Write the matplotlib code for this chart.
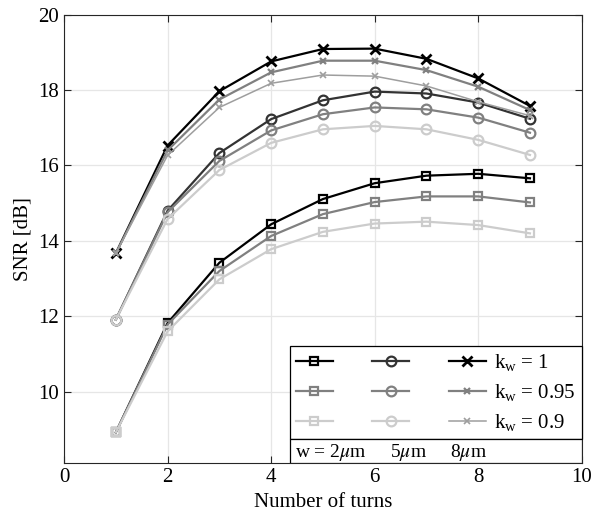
import numpy as np
import matplotlib
matplotlib.use('Agg')
import matplotlib.pyplot as plt
from matplotlib.legend_handler import HandlerTuple
from matplotlib.patches import Rectangle

plt.rcParams['font.family'] = 'Liberation Serif'
plt.rcParams['mathtext.fontset'] = 'stix'

turns = [1, 2, 3, 4, 5, 6, 7, 8, 9]

# w = 2 um (squares)
sq_k100 = [8.92, 11.82, 13.42, 14.44, 15.11, 15.53, 15.73, 15.78, 15.66]
sq_k095 = [8.92, 11.78, 13.20, 14.13, 14.71, 15.03, 15.18, 15.18, 15.02]
sq_k090 = [8.92, 11.60, 12.98, 13.78, 14.24, 14.46, 14.51, 14.42, 14.20]

# w = 5 um (circles)
ci_k100 = [11.91, 14.80, 16.33, 17.23, 17.73, 17.96, 17.91, 17.67, 17.24]
ci_k095 = [11.91, 14.76, 16.12, 16.93, 17.36, 17.54, 17.49, 17.27, 16.87]
ci_k090 = [11.91, 14.58, 15.88, 16.60, 16.96, 17.05, 16.96, 16.68, 16.28]

# w = 8 um (crosses)
cr_k100 = [13.67, 16.53, 17.97, 18.76, 19.09, 19.10, 18.83, 18.31, 17.58]
cr_k095 = [13.67, 16.40, 17.75, 18.47, 18.78, 18.78, 18.53, 18.09, 17.47]
cr_k090 = [13.67, 16.27, 17.54, 18.18, 18.40, 18.37, 18.11, 17.69, 17.32]

kw_labels = [r'$\mathregular{k_w}$ = 1', r'$\mathregular{k_w}$ = 0.95', r'$\mathregular{k_w}$ = 0.9']
w_labels = [r'w = 2$\mu$m', r'5$\mu$m', r'8$\mu$m']

fig = plt.figure(figsize=(5.93, 5.25), dpi=100)
ax = fig.add_axes([0.108, 0.1175, 0.873, 0.8545])

c1, c2, c3 = '0.0', '0.5', '0.8'
lw = 1.6

rows = []
h = []
h.append(ax.plot(turns, sq_k100, '-s', color=c1, lw=lw, ms=5.5, mfc='none', mew=1.6)[0])
h.append(ax.plot(turns, ci_k100, '-o', color='0.2', lw=lw, ms=7, mfc='none', mew=1.6)[0])
h.append(ax.plot(turns, cr_k100, '-x', color=c1, lw=lw, ms=7, mew=2)[0])
rows.append(tuple(h))
h = []
h.append(ax.plot(turns, sq_k095, '-s', color=c2, lw=lw, ms=5.5, mfc='none', mew=1.6)[0])
h.append(ax.plot(turns, ci_k095, '-o', color=c2, lw=lw, ms=7, mfc='none', mew=1.6)[0])
h.append(ax.plot(turns, cr_k095, '-x', color=c2, lw=lw, ms=5, mew=1.6)[0])
rows.append(tuple(h))
h = []
h.append(ax.plot(turns, sq_k090, '-s', color=c3, lw=lw, ms=5.5, mfc='none', mew=1.6)[0])
h.append(ax.plot(turns, ci_k090, '-o', color=c3, lw=lw, ms=7, mfc='none', mew=1.6)[0])
h.append(ax.plot(turns, cr_k090, '-x', color='0.62', lw=1.1, ms=4, mew=1.2)[0])
rows.append(tuple(h))

ax.set_xlim(0, 10)
ax.set_ylim(8.1, 20)
ax.set_xticks([0, 2, 4, 6, 8, 10])
ax.set_yticks([10, 12, 14, 16, 18, 20])
ax.grid(True, color='0.9', lw=0.9)
ax.set_axisbelow(True)
ax.tick_params(direction='in', top=True, right=True, length=5, labelsize=15,
               color='0.15', width=0.8)
for s in ax.spines.values():
    s.set_color('0.15')
    s.set_linewidth(0.8)
ax.set_xlabel('Number of turns', fontsize=15)
ax.set_ylabel('SNR [dB]', fontsize=15)

leg = ax.legend(rows, kw_labels, handler_map={tuple: HandlerTuple(ndivide=None, pad=1.9)},
                handlelength=9.1, handletextpad=0.4, loc='lower left',
                bbox_to_anchor=(0.436, 0.054, 0.564, 0.21), mode='expand',
                fontsize=15, fancybox=False, framealpha=1, edgecolor='black',
                borderaxespad=0, labelspacing=0.42, borderpad=0.3)
leg.get_frame().set_linewidth(0.9)

ax.add_patch(Rectangle((0.436, 0), 0.564, 0.054, transform=ax.transAxes,
                       facecolor='white', edgecolor='black', lw=0.9, zorder=6))
for xp, lab in zip([0.446, 0.629, 0.745], w_labels):
    ax.text(xp, 0.024, lab, transform=ax.transAxes, fontsize=14, va='center', zorder=7)

fig.savefig('out.png', dpi=100)
